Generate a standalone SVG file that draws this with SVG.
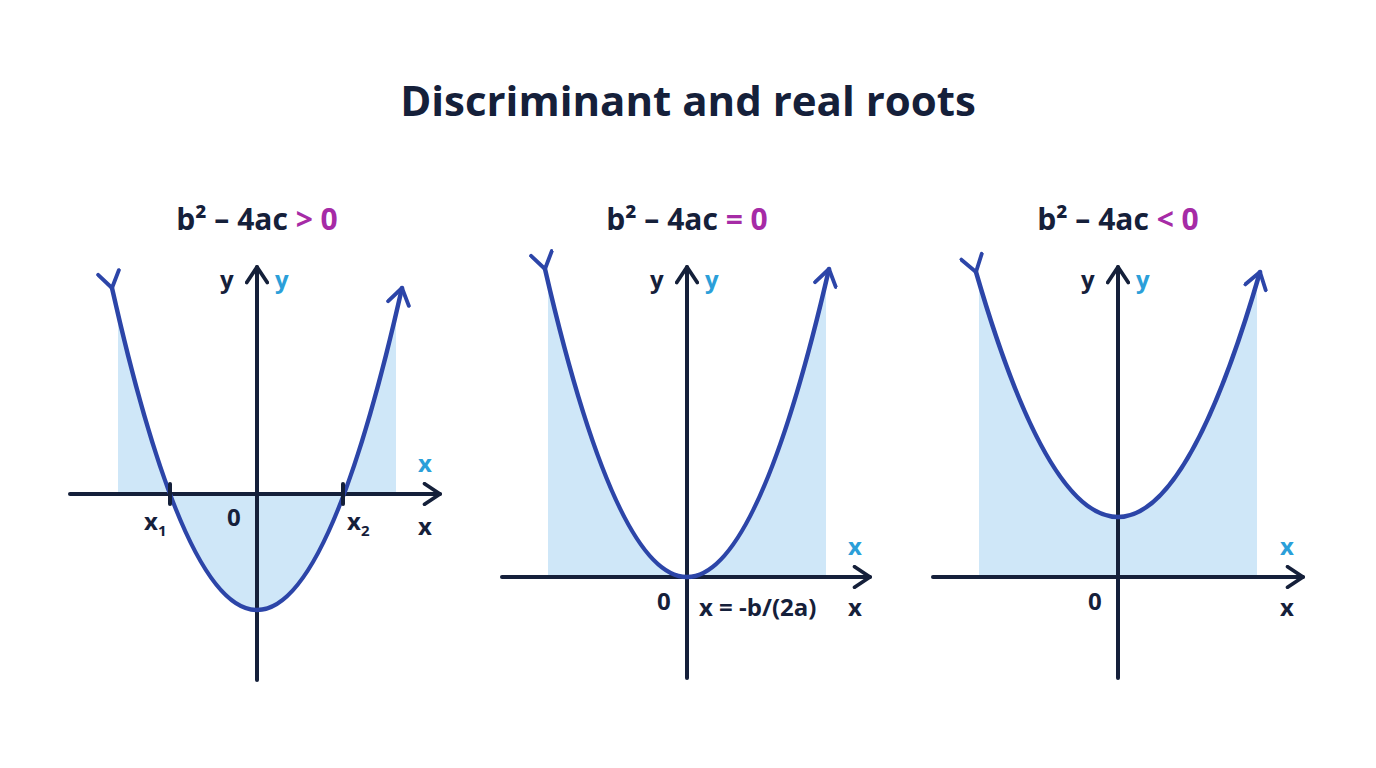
<svg xmlns="http://www.w3.org/2000/svg" width="1376" height="768" viewBox="0 0 1376 768">
<style>
text{font-family:"Open Sans","Liberation Sans",sans-serif;font-weight:700;fill:#15203a}
.t{font-size:42px;text-anchor:middle}
.h{font-size:30px;text-anchor:middle}
.l{font-size:24px}
.c{fill:#2b9fd9}
.m{fill:#a62ba6}
.ax{stroke:#15203a;stroke-width:4;fill:none;stroke-linecap:round}
.cv{stroke:#2c45a8;stroke-width:4.5;fill:none;stroke-linecap:round}
.f{fill:#cfe7f8}
</style>
<defs>
<marker id="ah" viewBox="0 0 14 14" refX="11" refY="7" markerWidth="6" markerHeight="6" markerUnits="strokeWidth" orient="auto"><path d="M2,1 L11,7 L2,13" fill="none" stroke="#15203a" stroke-width="2.2" stroke-linecap="round" stroke-linejoin="round"/></marker>
<marker id="ac" viewBox="0 0 14 14" refX="11" refY="7" markerWidth="5.5" markerHeight="5.5" markerUnits="strokeWidth" orient="auto"><path d="M2,1 L11,7 L2,13" fill="none" stroke="#2c45a8" stroke-width="2.2" stroke-linecap="round" stroke-linejoin="round"/></marker>
</defs>
<rect width="1376" height="768" fill="#fff"/>
<text class="t" x="688" y="116">Discriminant and real roots</text>

<g id="panel1">
<text class="h" x="257" y="230">b² – 4ac <tspan class="m">&gt; 0</tspan></text>
<path class="f" d="M118,494 L118,314 Q257,906 396,314 L396,494 Z"/>
<line class="ax" x1="70" y1="494" x2="440" y2="494" marker-end="url(#ah)"/>
<line class="ax" x1="257" y1="680" x2="257" y2="267" marker-end="url(#ah)"/>
<path class="cv" d="M112,288 Q257,932 402,288" marker-start="url(#ac)" marker-end="url(#ac)"/>
<line class="ax" x1="170" y1="484" x2="170" y2="504"/>
<line class="ax" x1="343" y1="484" x2="343" y2="504"/>
<text class="l" x="220" y="288">y</text><text class="l c" x="275" y="288">y</text>
<text class="l c" x="418" y="472">x</text><text class="l" x="418" y="535">x</text>
<text class="l" x="227" y="526">0</text>
<text class="l" x="144" y="530">x<tspan font-size="15" dy="6">1</tspan></text>
<text class="l" x="347" y="530">x<tspan font-size="15" dy="6">2</tspan></text>
</g>

<g id="panel2">
<text class="h" x="687" y="230">b² – 4ac <tspan class="m">= 0</tspan></text>
<path class="f" d="M548,577 L548,282 Q687,872 826,282 L826,577 Z"/>
<line class="ax" x1="502" y1="577" x2="870" y2="577" marker-end="url(#ah)"/>
<line class="ax" x1="687" y1="678" x2="687" y2="267" marker-end="url(#ah)"/>
<path class="cv" d="M545,269 Q687,885 829,269" marker-start="url(#ac)" marker-end="url(#ac)"/>
<text class="l" x="650" y="288">y</text><text class="l c" x="705" y="288">y</text>
<text class="l c" x="848" y="555">x</text><text class="l" x="848" y="616">x</text>
<text class="l" x="657" y="610">0</text>
<text class="l" x="699" y="616">x = -b/(2a)</text>
</g>

<g id="panel3">
<text class="h" x="1118" y="230">b² – 4ac <tspan class="m">&lt; 0</tspan></text>
<path class="f" d="M979,577 L979,282 Q1118,752 1257,282 L1257,577 Z"/>
<line class="ax" x1="933" y1="577" x2="1303" y2="577" marker-end="url(#ah)"/>
<line class="ax" x1="1118" y1="678" x2="1118" y2="267" marker-end="url(#ah)"/>
<path class="cv" d="M976,272 Q1118,762 1260,272" marker-start="url(#ac)" marker-end="url(#ac)"/>
<text class="l" x="1081" y="288">y</text><text class="l c" x="1136" y="288">y</text>
<text class="l c" x="1280" y="555">x</text><text class="l" x="1280" y="616">x</text>
<text class="l" x="1088" y="610">0</text>
</g>
</svg>
